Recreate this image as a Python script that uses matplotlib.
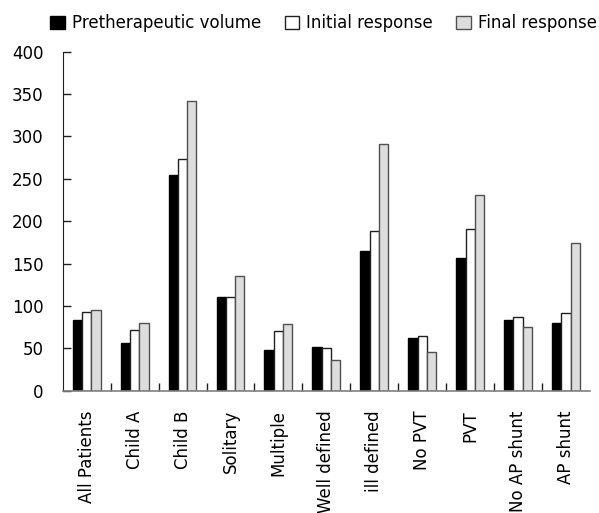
import matplotlib
matplotlib.use("Agg")
import matplotlib.pyplot as plt
from matplotlib.patches import Patch
import numpy as np

categories = ["All Patients", "Child A", "Child B", "Solitary", "Multiple",
              "Well defined", "ill defined", "No PVT", "PVT", "No AP shunt", "AP shunt"]
pretherapeutic = [83, 56, 255, 111, 48, 52, 165, 62, 156, 83, 80]
initial = [93, 72, 273, 111, 70, 50, 189, 65, 191, 87, 92]
final = [95, 80, 342, 135, 79, 36, 291, 46, 231, 75, 174]
series_names = ["Pretherapeutic volume", "Initial response", "Final response"]
yticks = [0, 50, 100, 150, 200, 250, 300, 350, 400]

plt.rcParams['font.family'] = ['DejaVu Sans']
fig = plt.figure(figsize=(5.99, 5.13), dpi=100)
ax = fig.add_axes([62.7/599, 1-390.7/513, (590-62.7)/599, (390.7-51.7)/513])

x = np.arange(len(categories))
w = 0.194
fills = ["#000000", "#ffffff", "#dcdddc"]
edges = ["#000000", "#202020", "#505050"]
for i, (vals, fc, ec) in enumerate(zip([pretherapeutic, initial, final], fills, edges)):
    ax.bar(x + (i - 1) * w, vals, width=w, color=fc, edgecolor=ec, linewidth=1.0,
           label=series_names[i], zorder=2)

ax.set_xlim(-0.5, len(categories) - 0.5)
ax.set_ylim(0, 400)
ax.set_yticks(yticks)
ax.set_yticklabels([str(v) for v in yticks], fontsize=12)
ax.set_xticks(x)
ax.set_xticklabels(categories, rotation=90, fontsize=12, va='top', ha='center')
ax.set_xticks(np.arange(0.5, len(categories) - 0.5, 1.0), minor=True)
ax.tick_params(axis='x', which='major', length=0, pad=14)
ax.tick_params(axis='x', which='minor', direction='in', length=6, width=1, color='#202020')
ax.tick_params(axis='y', direction='in', length=6, width=1, pad=14, color='#202020')
for s in ['top', 'right']:
    ax.spines[s].set_visible(False)
ax.spines['left'].set_color('#202020')
ax.spines['bottom'].set_color('#808080')
ax.spines['bottom'].set_linewidth(1.2)

handles = [Patch(facecolor=fc, edgecolor=ec, linewidth=1.0) for fc, ec in zip(fills, edges)]
fig.legend(handles, series_names, loc='center right', bbox_to_anchor=(597/599, 1-23/513),
           ncol=3, frameon=False, fontsize=12, handlelength=0.85, handleheight=0.85,
           handletextpad=0.45, columnspacing=1.4, borderpad=0, borderaxespad=0)

fig.savefig("out.png", dpi=100)
